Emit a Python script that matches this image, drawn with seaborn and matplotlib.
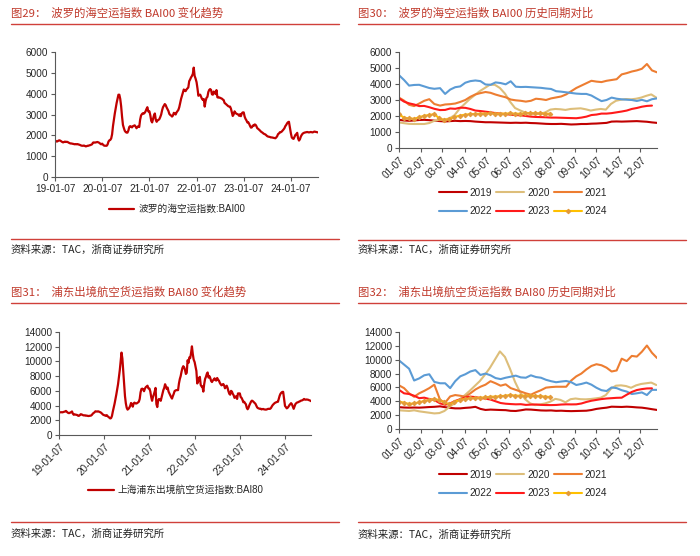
import pandas as pd
import matplotlib.pyplot as plt
from matplotlib.lines import Line2D
import seaborn as sns

# weekly index values, every year starts at 01-07
years = [2019, 2020, 2021, 2022, 2023, 2024]
year_colors = ['#C00000', '#DDBE7A', '#ED7D31', '#5B9BD5', '#FF1A1A', '#FFC000']

bai00_2019 = [1760, 1720, 1700, 1720, 1750, 1760, 1740, 1710, 1680, 1660, 1680, 1700, 1680,
              1690, 1680, 1650, 1630, 1610, 1610, 1600, 1590, 1580, 1570, 1580, 1570, 1580,
              1560, 1550, 1530, 1510, 1500, 1500, 1510, 1490, 1470, 1480, 1500, 1500, 1520,
              1530, 1550, 1570, 1650, 1660, 1650, 1660, 1670, 1680, 1660, 1640, 1600, 1570]
bai00_2020 = [1600, 1550, 1510, 1500, 1500, 1500, 1560, 1700, 1760, 1780, 1850, 2050, 2450,
              2750, 3050, 3300, 3550, 3750, 3950, 3950, 3750, 3400, 2900, 2500, 2350, 2220,
              2160, 2130, 2130, 2230, 2400, 2440, 2420, 2380, 2440, 2460, 2480, 2420, 2340,
              2400, 2440, 2400, 2750, 2950, 3020, 3060, 3040, 3080, 3150, 3260, 3350, 3150]
bai00_2021 = [3150, 2960, 2700, 2620, 2780, 2950, 3050, 2750, 2650, 2720, 2740, 2780, 2880,
              3000, 3200, 3350, 3430, 3500, 3450, 3340, 3250, 3170, 3030, 2980, 2950, 2900,
              2950, 3080, 3050, 3000, 3100, 3160, 3220, 3350, 3550, 3750, 3900, 4050, 4200,
              4150, 4120, 4200, 4250, 4300, 4600, 4680, 4780, 4850, 4950, 5250, 4850, 4730]
bai00_2022 = [4550, 4250, 3900, 3940, 3950, 3850, 3750, 3700, 3740, 3380, 3650, 3800, 3850,
              4080, 4180, 4220, 4180, 3970, 3950, 4100, 4060, 3980, 4170, 3830, 3810, 3820,
              3800, 3780, 3760, 3720, 3690, 3550, 3520, 3480, 3440, 3400, 3380, 3380, 3280,
              3100, 2930, 3000, 3150, 3080, 3040, 3020, 3000, 2940, 3010, 2920, 3050, 3100]
bai00_2023 = [3100, 2900, 2790, 2720, 2620, 2630, 2550, 2450, 2370, 2380, 2470, 2450, 2520,
              2510, 2440, 2340, 2310, 2270, 2230, 2180, 2150, 2120, 2080, 2060, 2040, 2000,
              1960, 1940, 1930, 1920, 1900, 1900, 1890, 1880, 1870, 1860, 1900, 1960, 2060,
              2090, 2150, 2150, 2180, 2230, 2280, 2340, 2440, 2500, 2580, 2630, 2650]
bai00_2024 = [2100, 1900, 1850, 1830, 1920, 2020, 2060, 2120, 1850, 1750, 1810, 1940, 2020,
              2080, 2110, 2130, 2140, 2150, 2160, 2150, 2140, 2150, 2160, 2150, 2140, 2160,
              2180, 2170, 2160, 2150, 2140]

bai80_2019 = [3150, 3100, 3080, 3100, 3080, 3120, 3170, 3200, 3270, 3150, 3050, 2980, 2980,
              3050, 3100, 3200, 2900, 2750, 2800, 2770, 2740, 2720, 2620, 2600, 2700, 2820,
              2800, 2740, 2680, 2660, 2680, 2620, 2640, 2600, 2580, 2600, 2620, 2640, 2740,
              2900, 3000, 3080, 3220, 3200, 3180, 3220, 3180, 3120, 3080, 2980, 2860, 2750]
bai80_2020 = [2700, 2650, 2600, 2700, 2550, 2450, 2350, 2250, 2300, 2600, 3200, 3700, 4250,
              4850, 5500, 6200, 6900, 7800, 8800, 10000, 11200, 10400, 8700, 6800, 5300, 4300,
              3700, 3450, 3550, 3700, 3950, 4350, 4200, 3850, 4300, 4400, 4300, 4280, 4330,
              4420, 4520, 4900, 5800, 6250, 6300, 6200, 5950, 6300, 6500, 6600, 6700, 6350]
bai80_2021 = [6300, 5900, 5150, 4650, 5150, 5500, 5900, 6400, 4200, 3800, 4700, 4900, 4800,
              4650, 5150, 5700, 6100, 6400, 6900, 6600, 6250, 6450, 5900, 5650, 5400, 5150,
              4950, 5300, 5600, 5970, 6050, 6100, 6100, 6100, 7000, 7600, 8000, 8600, 9100,
              9350, 9200, 8850, 8300, 8450, 10150, 9800, 10550, 10450, 11150, 12050, 11000, 10250]
bai80_2022 = [9900, 9300, 8700, 7000, 7300, 7750, 7900, 6800, 6600, 6600, 5900, 6900, 7600,
              7900, 8300, 8500, 7800, 8000, 7750, 7350, 7200, 7400, 7550, 7700, 7450, 7400,
              7750, 7500, 7400, 7100, 6900, 6750, 6850, 6930, 6750, 6350, 6500, 6700, 6400,
              5950, 5600, 5480, 6000, 5900, 5600, 5400, 5050, 5150, 5280, 4900, 5650, 5650]
bai80_2023 = [5650, 5150, 5050, 4800, 4450, 4520, 4330, 4180, 3700, 3500, 3700, 4050, 4300,
              4550, 4670, 4600, 4480, 4380, 4250, 4000, 3750, 3650, 3600, 3560, 3580, 3480,
              3520, 3540, 3480, 3460, 3450, 3470, 3530, 3560, 3550, 3560, 3680, 3900, 4080,
              4200, 4320, 4400, 4450, 4500, 4520, 4950, 5350, 5620, 5760, 5850, 5870]
bai80_2024 = [3950, 3800, 3620, 3700, 3850, 4050, 4180, 4330, 4180, 3850, 3560, 3900, 4200,
              4330, 4420, 4450, 4520, 4560, 4650, 4680, 4720, 4800, 4900, 4820, 4800, 4830,
              4810, 4780, 4720, 4680, 4600]

sns.set_style('ticks')
plt.rcParams['font.family'] = ['Liberation Sans', 'Noto Sans CJK SC']
plt.rcParams['axes.unicode_minus'] = False

W, H = 700, 556
RED = '#C0392B'
LINE_RED = '#C00000'
AX_COL = '#595959'


def build(series):
    parts = []
    for yr, vals in zip(years, series):
        d = pd.DataFrame({'date': pd.date_range(f'{yr}-01-07', periods=len(vals), freq='7D'),
                          'value': vals})
        d['year'] = str(yr)
        parts.append(d)
    df = pd.concat(parts, ignore_index=True)
    df['md'] = df['date'].apply(lambda t: t.replace(year=2000))
    return df


def px_axes(fig, left, right, top, bottom):
    return fig.add_axes([left / W, 1 - bottom / H, (right - left) / W, (bottom - top) / H])


def frame(fig, x0, x1, y_title, y_rule, y_rule2, y_src, title):
    fig.text(x0 / W, 1 - y_title / H, title, fontsize=8.2, color=RED, va='center', ha='left',
             family=['Noto Sans CJK SC'])
    for y in (y_rule, y_rule2):
        fig.add_artist(Line2D([x0 / W, x1 / W], [1 - y / H, 1 - y / H], color='#D0403A', lw=1.0))
    fig.text(x0 / W, 1 - y_src / H, '资料来源：TAC，浙商证券研究所', fontsize=7.5, color='#222222',
             va='center', ha='left', family=['Noto Sans CJK SC'])


def style_axes(ax, ymax, step):
    ax.set_ylim(0, ymax)
    ax.set_yticks(range(0, ymax + 1, step))
    ax.set_xlabel('')
    ax.set_ylabel('')
    sns.despine(ax=ax)
    for s in ('left', 'bottom'):
        ax.spines[s].set_color(AX_COL)
        ax.spines[s].set_linewidth(0.8)
    ax.tick_params(axis='both', labelsize=7.2, colors='#262626', length=3, width=0.8,
                   color=AX_COL, pad=2)


def trend(fig, ax, df, label, ymax, step, rot, leg_xy):
    sns.lineplot(data=df, x='date', y='value', color=LINE_RED, lw=1.6, ax=ax, label=label)
    ax.set_xlim(df['date'].min(), df['date'].max())
    style_axes(ax, ymax, step)
    ticks = pd.date_range('2019-01-07', periods=6, freq=pd.DateOffset(years=1))
    ax.set_xticks(ticks)
    if rot:
        ax.set_xticklabels([t.strftime('%y-%m-%d') for t in ticks], rotation=45, ha='right',
                           rotation_mode='anchor')
    else:
        ax.set_xticklabels([t.strftime('%y-%m-%d') for t in ticks])
    ax.legend(loc='center', bbox_to_anchor=(leg_xy[0] / W, 1 - leg_xy[1] / H),
              bbox_transform=fig.transFigure, frameon=False,
              handlelength=2.6, handletextpad=0.4,
              prop={'family': ['Liberation Sans', 'Noto Sans CJK SC'], 'size': 7})


def compare(fig, ax, df, ymax, step, leg_xy):
    for yr, col in zip(years, year_colors):
        sub = df[df['year'] == str(yr)]
        kw = {}
        if yr == 2024:
            kw = dict(marker='D', markersize=2.3, markerfacecolor='#E39A3B',
                      markeredgecolor='#E39A3B')
        sns.lineplot(data=sub, x='md', y='value', color=col, lw=1.5, ax=ax, label=str(yr), **kw)
    ax.set_xlim(pd.Timestamp('2000-01-07'), pd.Timestamp('2000-12-30'))
    style_axes(ax, ymax, step)
    ticks = [pd.Timestamp(2000, m, 7) for m in range(1, 13)]
    ax.set_xticks(ticks)
    ax.set_xticklabels([t.strftime('%m-%d') for t in ticks], rotation=45, ha='right',
                       rotation_mode='anchor')
    # legend fills column by column, so reorder to read row by row
    handles, labels = ax.get_legend_handles_labels()
    order = [0, 3, 1, 4, 2, 5]
    ax.legend([handles[i] for i in order], [labels[i] for i in order],
              loc='center', bbox_to_anchor=(leg_xy[0] / W, 1 - leg_xy[1] / H),
              bbox_transform=fig.transFigure, frameon=False, fontsize=7.2, ncol=3,
              handlelength=2.8, handletextpad=0.3, columnspacing=0.4, labelspacing=0.85)


bai00 = build([bai00_2019, bai00_2020, bai00_2021, bai00_2022, bai00_2023, bai00_2024])
bai80 = build([bai80_2019, bai80_2020, bai80_2021, bai80_2022, bai80_2023, bai80_2024])

fig = plt.figure(figsize=(7, 5.56), dpi=100)

frame(fig, 11, 339, 13, 24, 239, 250, '图29：  波罗的海空运指数 BAI00 变化趋势')
frame(fig, 358, 686, 13, 24, 240, 250, '图30：  波罗的海空运指数 BAI00 历史同期对比')
frame(fig, 11, 339, 292, 303, 522, 534, '图31：  浦东出境航空货运指数 BAI80 变化趋势')
frame(fig, 358, 686, 292, 303, 522, 535, '图32：  浦东出境航空货运指数 BAI80 历史同期对比')

ax1 = px_axes(fig, 55, 318, 52, 177)
trend(fig, ax1, bai00, '波罗的海空运指数:BAI00', 6000, 1000, False, (177, 209))

ax2 = px_axes(fig, 399, 657, 52, 148)
compare(fig, ax2, bai00, 6000, 1000, (523, 202))

ax3 = px_axes(fig, 59, 311, 332, 435)
trend(fig, ax3, bai80, '上海浦东出境航空货运指数:BAI80', 14000, 2000, True, (176, 490))

ax4 = px_axes(fig, 399, 657, 332, 429)
compare(fig, ax4, bai80, 14000, 2000, (523, 484))

fig.savefig('out.png', dpi=100)
